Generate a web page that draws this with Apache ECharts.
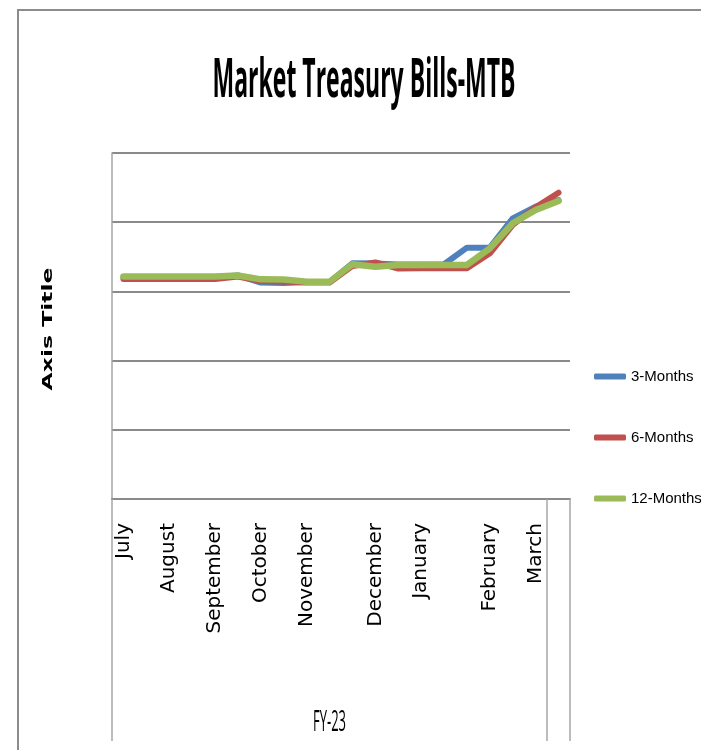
<!DOCTYPE html>
<html><head><meta charset="utf-8">
<script src="https://cdn.jsdelivr.net/npm/echarts@6/dist/echarts.min.js"></script>
<style>html,body{margin:0;padding:0;background:#fff}#c{width:701px;height:750px}</style>
</head><body><div id="c"></div>
<script>
// ---- data ----
const categories = ['July','','August','','September','','October','','November','','','December','','January','','','February','','March',''];
const threeMonths  = [16.04,16.04,16.04,16.04,16.04,16.15,15.64,15.61,15.68,15.68,17.03,17.02,16.95,16.94,16.96,18.16,18.16,20.28,21.12,21.60];
const sixMonths    = [15.90,15.90,15.90,15.90,15.90,16.08,15.75,15.72,15.64,15.64,16.84,17.09,16.65,16.67,16.67,16.67,17.75,19.80,21.08,22.13];
const twelveMonths = [16.08,16.08,16.08,16.08,16.08,16.15,15.87,15.86,15.70,15.70,16.96,16.78,16.91,16.91,16.91,16.91,18.11,19.92,20.88,21.53];
const seriesNames = ['3-Months','6-Months','12-Months'];
const yTicks = [0,5,10,15,20,25];
const titleText = 'Market Treasury Bills-MTB';
const axisTitleText = 'Axis Title';
const groupLabel = 'FY-23';

function measure(text, font){
  const c = document.createElement('canvas').getContext('2d');
  c.font = font; return c.measureText(text).width;
}
const titleFont = 'bold 53px "Open Sans"';
const axisTitleFont = 'bold 14px "DejaVu Sans"';
const groupFont = '29px "Open Sans"';

const chart = echarts.init(document.getElementById('c'), null, {renderer:'canvas'});
const gridColor = '#8a8a8a';
chart.setOption({
  animation: false,
  backgroundColor: '#ffffff',
  grid: {left:112, right:131, top:153, bottom:251},
  legend: {
    orient:'vertical', left:589, top:364, itemGap:46,
    icon:'roundRect', itemWidth:32, itemHeight:6,
    textStyle:{fontFamily:'"Liberation Sans", Arial, sans-serif', fontSize:15, color:'#000'},
    data: seriesNames
  },
  xAxis: {
    type:'category', data:categories, boundaryGap:true,
    axisLine:{show:true, lineStyle:{color:gridColor, width:2}},
    axisTick:{show:true, length:242, interval:function(i){return i===0 || i===categories.length-1;}, lineStyle:{color:'#a6a6a6', width:1.5}},
    axisLabel:{rotate:90, interval:0, margin:24, fontFamily:'"DejaVu Sans"', fontSize:20, color:'#000'},
    splitLine:{show:false}
  },
  yAxis: {
    type:'value', min:yTicks[0], max:yTicks[yTicks.length-1], interval:yTicks[1]-yTicks[0],
    axisLine:{show:true, lineStyle:{color:'#a6a6a6', width:1.5}},
    axisTick:{show:false}, axisLabel:{show:false},
    splitLine:{show:true, lineStyle:{color:gridColor, width:2}}
  },
  series: [
    {name:seriesNames[0], type:'line', data:threeMonths, showSymbol:false, symbol:'none', color:'#4F81BD', lineStyle:{width:6, color:'#4F81BD', cap:'round', join:'round'}},
    {name:seriesNames[1], type:'line', data:sixMonths, showSymbol:false, symbol:'none', color:'#C0504D', lineStyle:{width:6, color:'#C0504D', cap:'round', join:'round'}},
    {name:seriesNames[2], type:'line', data:twelveMonths, showSymbol:false, symbol:'none', color:'#9BBB59', lineStyle:{width:6.5, color:'#9BBB59', cap:'round', join:'round'}}
  ],
  graphic: [
    {type:'rect', silent:true, shape:{x:18, y:10, width:900, height:900}, style:{fill:'none', stroke:'#8c8c8c', lineWidth:2}},
    {type:'text', x:364, y:82, scaleX:303/measure(titleText,titleFont),
      style:{text:titleText, font:titleFont, fill:'#000', align:'center', verticalAlign:'middle'}},
    {type:'text', x:48, y:329, rotation:Math.PI/2, scaleX:123/measure(axisTitleText,axisTitleFont),
      style:{text:axisTitleText, font:axisTitleFont, fill:'#000', align:'center', verticalAlign:'middle'}},
    {type:'text', x:329.5, y:723, scaleX:33/measure(groupLabel,groupFont),
      style:{text:groupLabel, font:groupFont, fill:'#000', align:'center', verticalAlign:'middle'}}
  ]
});
</script>
</body></html>
